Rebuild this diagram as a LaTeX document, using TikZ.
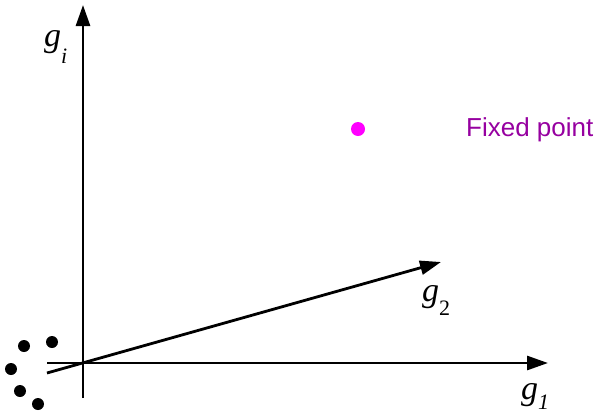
\documentclass[tikz,border=0pt]{standalone}
\usepackage{fontspec}
\setmainfont{Liberation Serif}
\newfontfamily\labelsans{Liberation Sans}
\usetikzlibrary{arrows.meta}
\definecolor{fixedtext}{RGB}{150,0,160}
\definecolor{fixeddot}{RGB}{255,0,255}
\tikzset{
  axis/.style={line width=2.8pt, -{Triangle[length=21pt,width=14pt]}},
  blackdot/.style={circle, fill=black, inner sep=0pt, minimum size=12pt},
  magdot/.style={circle, fill=fixeddot, inner sep=0pt, minimum size=14pt},
  glabel/.style={inner sep=0pt, anchor=base west, font=\fontsize{34}{34}\selectfont\itshape},
}
\newcommand{\subtxt}[2]{\raisebox{#1}{\fontsize{22}{22}\selectfont #2}}
\begin{document}
\begin{tikzpicture}[x=1pt, y=-1pt]
\useasboundingbox (0,0) rectangle (597,413);
% axis points
\coordinate (ybot) at (83,398);
\coordinate (ytop) at (83,5);
\coordinate (xleft) at (47,363);
\coordinate (xright) at (548,363);
\coordinate (vstart) at (47,373);
\coordinate (vend) at (441,262);
% axes
\draw[axis] (ybot) -- (ytop);
\draw[axis] (xleft) -- (xright);
\draw[axis] (vstart) -- (vend);
% labels
\node[glabel] (gi) at (44,46) {g\subtxt{-17pt}{\itshape i}};
\node[glabel] (g2) at (422,301) {g\subtxt{-14pt}{\upshape 2}};
\node[glabel] (g1) at (521,399) {g\subtxt{-10pt}{\itshape 1}};
% dots
\node[blackdot] (d1) at (52,342) {};
\node[blackdot] (d2) at (24,346) {};
\node[blackdot] (d3) at (11,369) {};
\node[blackdot] (d4) at (20,391) {};
\node[blackdot] (d5) at (38,404) {};
% fixed point
\node[magdot] (fp) at (358,129) {};
\node[inner sep=0pt, anchor=base west, text=fixedtext, font=\labelsans\fontsize{26}{26}\selectfont] (fptext) at (466,136) {Fixed point};
\end{tikzpicture}
\end{document}
